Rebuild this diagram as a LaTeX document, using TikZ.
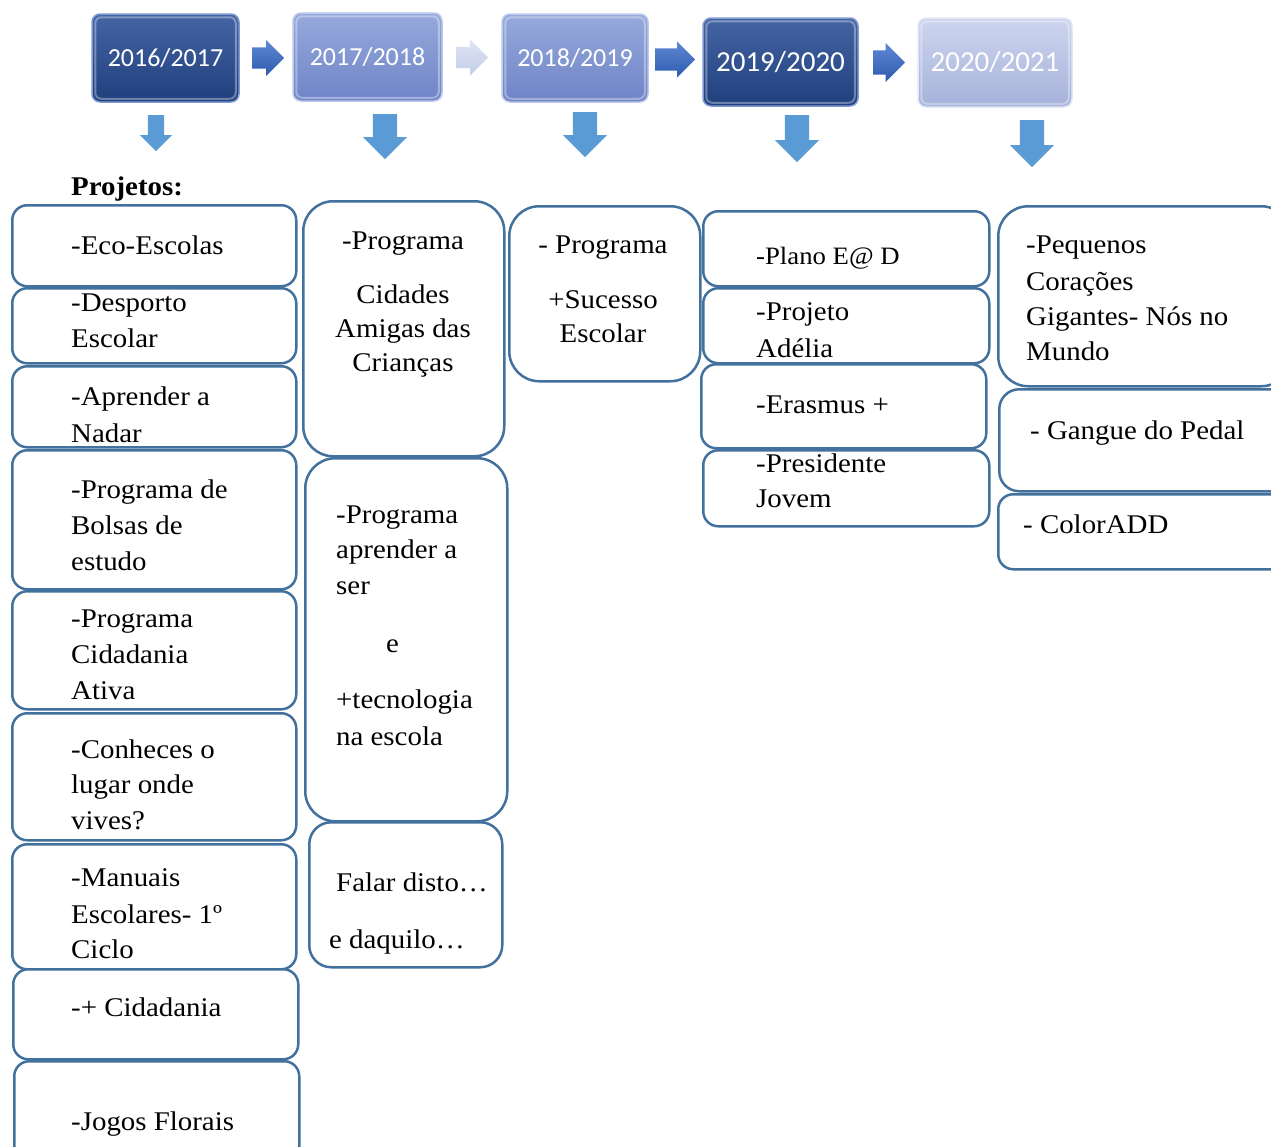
\documentclass[tikz,border=0pt]{standalone}
\usepackage{fontspec}
\setmainfont{Liberation Serif}[FakeStretch=1.07]
\newfontfamily\yearfont{Carlito}
\usetikzlibrary{shapes.arrows}

\definecolor{cardline}{HTML}{41719C}
\definecolor{darkTop}{HTML}{4464A3}
\definecolor{darkBot}{HTML}{1F3F7D}
\definecolor{darkRim}{HTML}{7F9AD0}
\definecolor{midTop}{HTML}{97A9DC}
\definecolor{midBot}{HTML}{6E84C6}
\definecolor{midRim}{HTML}{BCC8EC}
\definecolor{paleTop}{HTML}{CDD5EE}
\definecolor{paleBot}{HTML}{A6B2DA}
\definecolor{paleRim}{HTML}{E3E8F6}
\definecolor{flowTop}{HTML}{5F89D4}
\definecolor{flowBot}{HTML}{2E5AAD}
\definecolor{ghostTop}{HTML}{E0E5F5}
\definecolor{ghostBot}{HTML}{C3CDEA}
\definecolor{drop}{HTML}{5B9BD5}

\tikzset{
  card/.style={draw=cardline, line width=2.5pt, fill=white, rounded corners=#1,
    inner sep=0pt, anchor=north west},
  card/.default=15pt,
  % multi-line texts are anchored at the baseline of their last line
  txt/.style={font=\fontsize{27}{36}\selectfont, inner sep=0pt, align=left, anchor=base west},
  ctxt/.style={font=\fontsize{27}{36}\selectfont, inner sep=0pt, align=center, anchor=base},
  yearbox/.style={rounded corners=8pt, line width=1.5pt, text=white, inner sep=0pt},
  darkyear/.style={yearbox, top color=darkTop, bottom color=darkBot, draw=darkRim},
  midyear/.style={yearbox, top color=midTop, bottom color=midBot, draw=midRim},
  paleyear/.style={yearbox, top color=paleTop, bottom color=paleBot, draw=paleRim},
  gloss/.style={draw=white, opacity=.35, line width=2pt, rounded corners=6pt},
  rarrow/.style={single arrow, inner xsep=0pt, top color=flowTop, bottom color=flowBot,
    draw=none, anchor=tail},
  darrow/.style={single arrow, inner xsep=0pt, fill=drop, draw=none, rotate=-90, anchor=tail},
}

\begin{document}
\begin{tikzpicture}[x=1pt, y=-1pt]
  \useasboundingbox (0,0) rectangle (1271,1146);
  \fill[white] (0,0) rectangle (1271,1146);
  \clip (0,0) rectangle (1271,1146);

  % ---- school years ----
  \node[darkyear, minimum width=147pt, minimum height=88pt,
        font=\yearfont\fontsize{26}{30}\selectfont] (y1) at (165.5,58) {2016/2017};
  \node[midyear, minimum width=149pt, minimum height=88pt,
        font=\yearfont\fontsize{26}{30}\selectfont] (y2) at (367.5,57) {2017/2018};
  \node[midyear, minimum width=146pt, minimum height=88pt,
        font=\yearfont\fontsize{26}{30}\selectfont] (y3) at (575,58) {2018/2019};
  \node[darkyear, minimum width=155pt, minimum height=88pt,
        font=\yearfont\fontsize{29}{33}\selectfont] (y4) at (780.5,62) {2019/2020};
  \node[paleyear, minimum width=154pt, minimum height=89pt,
        font=\yearfont\fontsize{29}{33}\selectfont] (y5) at (995,62.5) {2020/2021};
  \foreach \y in {y1,y2,y3,y4,y5}
    \draw[gloss] ([shift={(4pt,-4pt)}]\y.north west) rectangle ([shift={(-4pt,4pt)}]\y.south east);

  % ---- arrows between the years (placed by their tails) ----
  \node[rarrow, inner ysep=10.5pt, minimum height=32pt, minimum width=36pt,
        single arrow head extend=7.5pt] (ra1) at (252,58) {};
  \node[rarrow, top color=ghostTop, bottom color=ghostBot, inner ysep=10.5pt,
        minimum height=32pt, minimum width=36pt, single arrow head extend=7.5pt] (ra2) at (456,57.5) {};
  \node[rarrow, inner ysep=11pt, minimum height=40pt, minimum width=36pt,
        single arrow head extend=7pt] (ra3) at (655,59.5) {};
  \node[rarrow, inner ysep=12pt, minimum height=32pt, minimum width=39pt,
        single arrow head extend=7.5pt] (ra4) at (873,62.5) {};

  % ---- arrows down to the project lists ----
  \node[darrow, inner ysep=8pt, minimum height=36pt, minimum width=32pt,
        single arrow head extend=8pt] (da1) at (156,115) {};
  \node[darrow, inner ysep=12pt, minimum height=45pt, minimum width=44pt,
        single arrow head extend=10pt] (da2) at (385,114) {};
  \node[darrow, inner ysep=12pt, minimum height=45pt, minimum width=44pt,
        single arrow head extend=10pt] (da3) at (585,112) {};
  \node[darrow, inner ysep=12pt, minimum height=47pt, minimum width=44pt,
        single arrow head extend=10pt] (da4) at (797,115) {};
  \node[darrow, inner ysep=12pt, minimum height=47pt, minimum width=44pt,
        single arrow head extend=10pt] (da5) at (1032,120) {};

  \node[txt, font=\bfseries\fontsize{27}{36}\selectfont] (proj) at (71,195) {Projetos:};

  % ---- 2016/2017 ----
  \node[card, minimum width=284pt, minimum height=81pt]  (c1) at (11,204) {};
  \node[txt] (t1) at (71,254) {-Eco-Escolas};
  \node[card, minimum width=284pt, minimum height=75pt]  (c2) at (11,287) {};
  \node[txt] (t2) at (71,347) {-Desporto\\Escolar};
  \node[card, minimum width=284pt, minimum height=81pt]  (c3) at (11,365) {};
  \node[txt] (t3) at (71,442) {-Aprender a\\[1pt]Nadar};
  \node[card, minimum width=284pt, minimum height=139pt] (c4) at (11,449) {};
  \node[txt] (t4) at (71,570) {-Programa de\\Bolsas de\\estudo};
  \node[card, minimum width=284pt, minimum height=118pt] (c5) at (11,590) {};
  \node[txt] (t5) at (71,699) {-Programa\\Cidadania\\Ativa};
  \node[card, minimum width=284pt, minimum height=127pt] (c6) at (11,712) {};
  \node[txt] (t6) at (71,829) {-Conheces o\\[-1pt]lugar onde\\vives?};
  \node[card, minimum width=284pt, minimum height=125pt] (c7) at (11,843) {};
  \node[txt] (t7) at (71,958) {-Manuais\\[1pt]Escolares- 1º\\[-1pt]Ciclo};
  \node[card, minimum width=285pt, minimum height=90pt]  (c8) at (12,968) {};
  \node[txt] (t8) at (71,1016) {-+ Cidadania};
  \node[card, minimum width=285pt, minimum height=110pt] (c9) at (13,1060) {};
  \node[txt] (t9) at (71,1130) {-Jogos Florais};

  % ---- 2017/2018 ----
  \node[card=30pt, minimum width=201pt, minimum height=255pt] (d1) at (302,200) {};
  \node[ctxt] (u1) at (403,371) {-Programa\\[18pt]Cidades\\[-2pt]Amigas das\\[-2pt]Crianças};
  \node[card=30pt, minimum width=202pt, minimum height=363pt] (d2) at (304,457) {};
  \node[txt] (u2) at (336,745)
    {-Programa\\[-1pt]aprender a\\ser\\[22pt]\hspace*{50pt}e\\[20pt]+tecnologia\\[1pt]na escola};
  \node[card=22pt, minimum width=193pt, minimum height=145pt] (d3) at (308,821) {};
  \node[txt] (u3) at (336,891) {Falar disto…};
  \node[txt] (u4) at (329,948) {e daquilo…};

  % ---- 2018/2019 ----
  \node[card=30pt, minimum width=191pt, minimum height=175pt] (e1) at (508,205) {};
  \node[ctxt] (v1) at (603,342) {- Programa\\[19pt]+Sucesso\\[-2pt]Escolar};

  % ---- 2019/2020 ----
  \node[card, minimum width=286pt, minimum height=75pt] (f1) at (702,210) {};
  \node[txt, font=\fontsize{25}{30}\selectfont] (w1) at (756,264) {-Plano E@ D};
  \node[card, minimum width=286pt, minimum height=75pt] (f2) at (702,287) {};
  \node[txt] (w2) at (756,357) {-Projeto\\[1pt]Adélia};
  \node[card, minimum width=285pt, minimum height=84pt] (f3) at (700,363) {};
  \node[txt] (w3) at (756,413) {-Erasmus +};
  \node[card, minimum width=286pt, minimum height=76pt] (f4) at (702,449) {};
  \node[txt] (w4) at (756,507) {-Presidente\\[-1pt]Jovem};

  % ---- 2020/2021 ----
  \node[card=30pt, minimum width=293pt, minimum height=180pt] (g1) at (997,205) {};
  \node[txt] (x1) at (1026,360) {-Pequenos\\[1pt]Corações\\[-1pt]Gigantes- Nós no\\[-1pt]Mundo};
  \node[card=20pt, minimum width=292pt, minimum height=102pt] (g2) at (998,388) {};
  \node[txt] (x2) at (1030,439) {- Gangue do Pedal};
  \node[card, minimum width=293pt, minimum height=75pt] (g3) at (997,493) {};
  \node[txt] (x3) at (1023,533) {- ColorADD};
\end{tikzpicture}
\end{document}
